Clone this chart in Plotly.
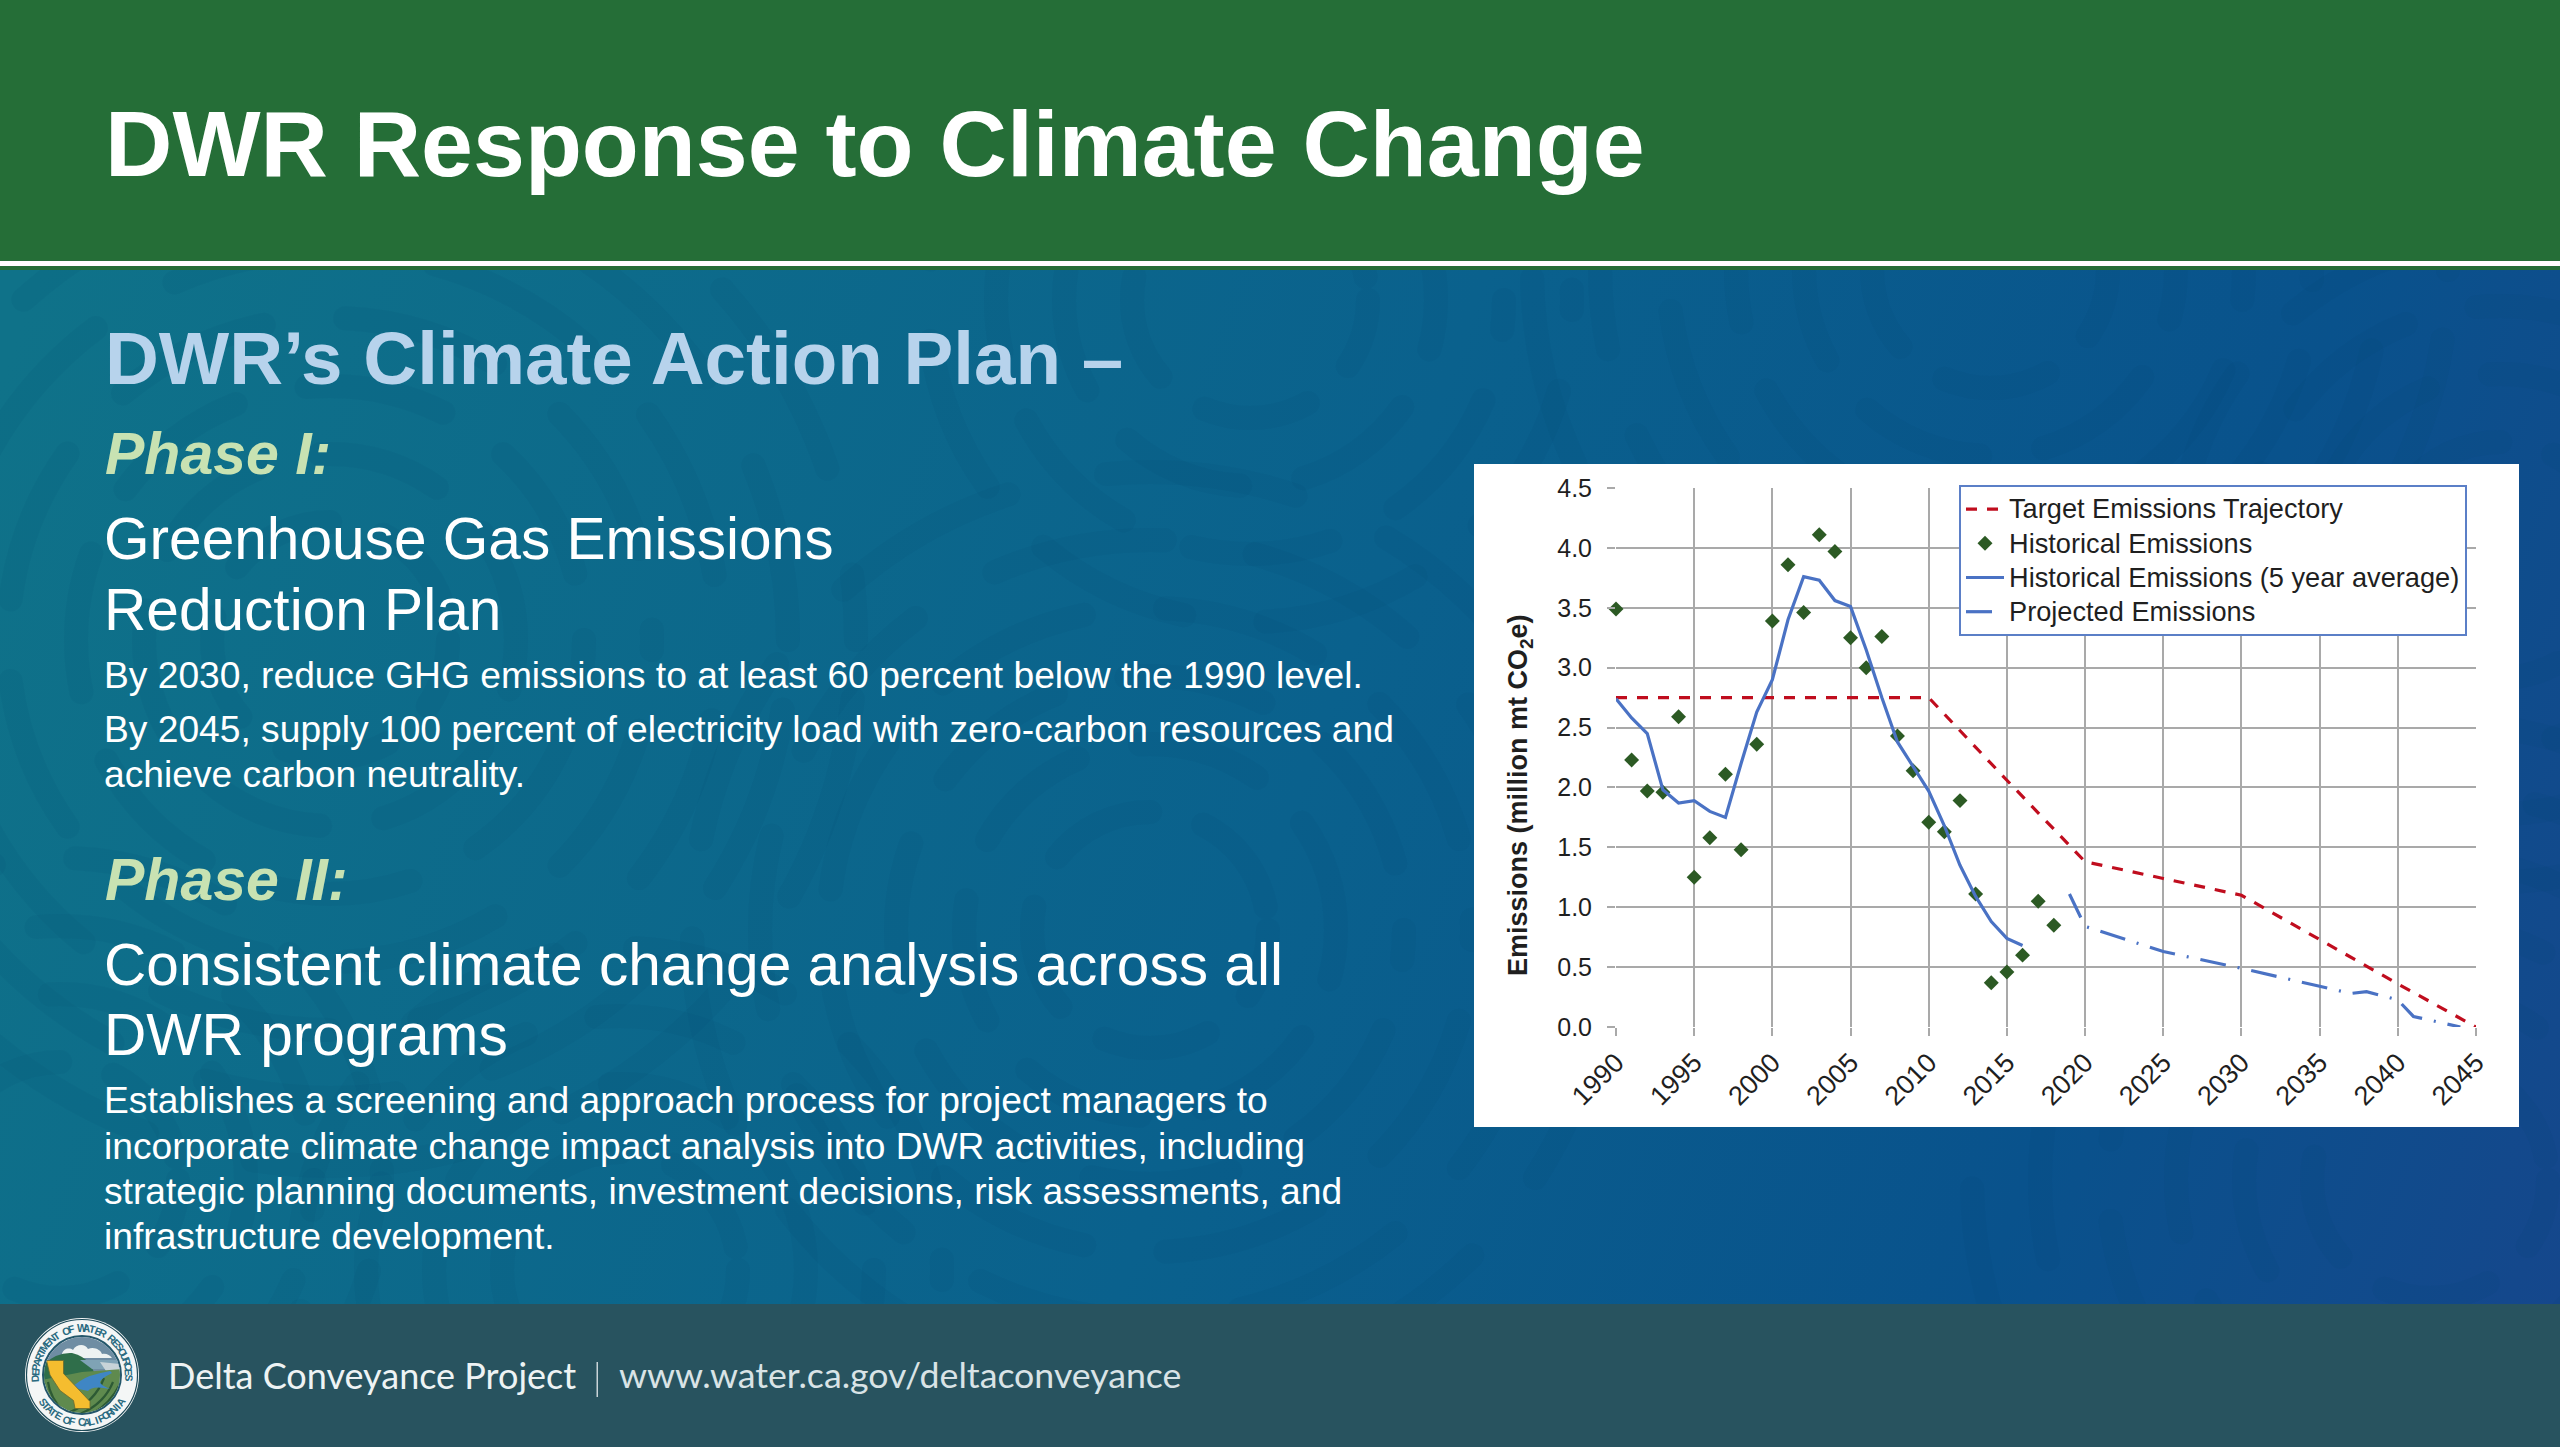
import base64, math
import plotly.graph_objects as go

W, H = 2560, 1447

# ---------- data ----------
target_years = [1990, 2010, 2015, 2020, 2025, 2030, 2035, 2040, 2045]
target_values = [2.75, 2.75, 2.06, 1.38, 1.24, 1.10, 0.73, 0.36, 0.0]

hist_years = list(range(1990, 2019))
hist_values = [3.49, 2.23, 1.97, 1.96, 2.59, 1.25, 1.58, 2.11, 1.48, 2.36,
               3.39, 3.86, 3.46, 4.11, 3.97, 3.25, 3.00, 3.26, 2.43, 2.14,
               1.71, 1.63, 1.89, 1.11, 0.37, 0.46, 0.60, 1.05, 0.85]

avg_years = list(range(1990, 2017))
avg_values = [2.74, 2.58, 2.45, 1.98, 1.87, 1.89, 1.80, 1.75, 2.20, 2.63,
              2.90, 3.40, 3.76, 3.73, 3.56, 3.51, 3.15, 2.75, 2.38, 2.17,
              1.97, 1.68, 1.35, 1.09, 0.88, 0.74, 0.68]

proj_years = [2019, 2020, 2025, 2030, 2035, 2037, 2038, 2040, 2041, 2044]
proj_values = [1.11, 0.84, 0.63, 0.49, 0.34, 0.28, 0.295, 0.226, 0.088, 0.0]

series_names = ["Target Emissions Trajectory", "Historical Emissions",
                "Historical Emissions (5 year average)", "Projected Emissions"]
y_title = "Emissions (million mt CO<sub>2</sub>e)"

SANS = "Liberation Sans"

# ---------- decorative background (gradient, faint swirl pattern, footer, seal art) ----------
swirls = ""
for cx, cy, n in [(1990, 270, 6), (330, 640, 7), (1150, 930, 6), (2430, 1180, 6),
                  (620, 1270, 4), (2500, 560, 4), (1250, 300, 4), (60, 1180, 4)]:
    for i in range(1, n + 1):
        r = 50 + i * 68
        swirls += (f'<circle cx="{cx}" cy="{cy}" r="{r}" fill="none" stroke="#06406f" '
                   f'stroke-opacity="0.075" stroke-width="24" stroke-linecap="round" '
                   f'stroke-dasharray="{90 + 17 * i} {46 + 9 * i}" '
                   f'stroke-dashoffset="{i * 37}"/>')
svg = f'''<svg xmlns="http://www.w3.org/2000/svg" width="{W}" height="{H}" viewBox="0 0 {W} {H}">
<defs><linearGradient id="g" gradientUnits="userSpaceOnUse" x1="0" y1="380" x2="2560" y2="1300">
<stop offset="0" stop-color="#0f7289"/><stop offset="0.5" stop-color="#0a618d"/>
<stop offset="0.8" stop-color="#09528c"/><stop offset="1" stop-color="#15478c"/></linearGradient>
<clipPath id="c"><circle cx="82" cy="1375" r="38"/></clipPath></defs>
<rect width="{W}" height="{H}" fill="url(#g)"/>{swirls}
<rect y="1304" width="{W}" height="{H - 1304}" fill="#28535f"/>
<circle cx="82" cy="1375" r="57" fill="#f4f6f6"/>
<circle cx="82" cy="1375" r="55.5" fill="none" stroke="#1d4a58" stroke-width="1.2"/>
<circle cx="82" cy="1375" r="39" fill="none" stroke="#23566a" stroke-width="2"/>
<g clip-path="url(#c)">
<rect x="40" y="1330" width="84" height="90" fill="#6f8da3"/>
<path d="M62 1354c1-5 7-7 11-4 3-6 12-7 15-1 6-3 13 1 14 5 4-1 8 1 10 4H62z" fill="#eef2f2"/>
<path d="M42 1366q14-14 30-13 12 3 18 11l4 8-10 12H42z" fill="#2f6e4a"/>
<path d="M80 1360h42v9H92z" fill="#7fa3b5"/>
<path d="M100 1362l20 2v7l-12 3z" fill="#c8d4d8"/>
<path d="M42 1380l40-8 42-3v50H42z" fill="#5f8a4e"/>
<path d="M70 1412q25-10 34-34M80 1414q24-10 33-32M92 1414q18-10 28-30M48 1382q2 16 16 30"
 fill="none" stroke="#2d5a34" stroke-width="2.2"/>
<path d="M110 1371q-22 4-30 10t-10 6l18 4q4-6 22-2-10-4-10-7t12-9z" fill="#3f86c4"/>
<path d="M46.5 1360.5h17v13l26.500 28v7h-15l-1.500-8-13.500-10-10-15.500z" fill="#f5bd2f" stroke="#6b6a2e" stroke-width=".8"/>
</g></svg>'''
bg_uri = "data:image/svg+xml;base64," + base64.b64encode(svg.encode()).decode()


def px(x):
    return x / W


def py(y):
    return 1 - y / H


def rect(x0, y0, x1, y1, color):
    return dict(type="rect", xref="paper", yref="paper", x0=px(x0), x1=px(x1),
                y0=py(y0), y1=py(y1), fillcolor=color, line_width=0, layer="below")


shapes = [
    rect(0, 0, W, 270, "#256e37"),
    rect(0, 261, W, 266, "#ffffff"),
    rect(1474, 464, 2519, 1127, "#ffffff"),
    rect(596.5, 1362, 598, 1397, "#c9d4d8"),
]

annotations = []


def txt(x, baseline, s, size, color="#ffffff", bold=False, italic=False, family=SANS):
    t = s
    if bold:
        t = f"<b>{t}</b>"
    if italic:
        t = f"<i>{t}</i>"
    annotations.append(dict(x=px(x), y=py(baseline - 0.3465 * size), xref="paper", yref="paper",
                            text=t, showarrow=False, xanchor="left", yanchor="middle",
                            align="left", borderpad=0, borderwidth=0,
                            font=dict(family=family, size=size, color=color)))


txt(105, 176, "DWR Response to Climate Change", 93.3, bold=True)
txt(105, 384, "DWR’s Climate Action Plan –", 74.6, "#b7d3ec", bold=True)
txt(105, 474, "Phase I:", 59, "#c8e2b2", bold=True, italic=True)
txt(104, 559, "Greenhouse Gas Emissions", 58.6)
txt(104, 630, "Reduction Plan", 58.6)
txt(104, 688, "By 2030, reduce GHG emissions to at least 60 percent below the 1990 level.", 37.2)
txt(104, 742, "By 2045, supply 100 percent of electricity load with zero-carbon resources and", 37.2)
txt(104, 787, "achieve carbon neutrality.", 37.2)
txt(105, 900, "Phase II:", 59, "#c8e2b2", bold=True, italic=True)
txt(104, 985, "Consistent climate change analysis across all", 58.6)
txt(104, 1055, "DWR programs", 58.6)
txt(104, 1113, "Establishes a screening and approach process for project managers to", 37.2)
txt(104, 1159, "incorporate climate change impact analysis into DWR activities, including", 37.2)
txt(104, 1204, "strategic planning documents, investment decisions, risk assessments, and", 37.2)
txt(104, 1249, "infrastructure development.", 37.2)
txt(168, 1387, "Delta Conveyance Project", 36, "#eef3f4", family="Lato")
txt(619, 1387, "www.water.ca.gov/deltaconveyance", 35.7, "#d9e3e6", family="Lato")

annotations.append(dict(x=px(1520), y=py(795), xref="paper", yref="paper", text=f"<b>{y_title}</b>",
                        showarrow=False, textangle=-90, xanchor="center", yanchor="middle",
                        borderpad=0, font=dict(family=SANS, size=27, color="#1f1f1f")))


def ring(s, start, end, r, flip):
    n = len(s)
    for i, ch in enumerate(s):
        if ch == " ":
            continue
        a = math.radians(start + (end - start) * i / (n - 1))
        x = 82 + r * math.sin(a)
        y = 1375 - r * math.cos(a)
        ang = math.degrees(a) + (180 if flip else 0)
        annotations.append(dict(x=px(x), y=py(y), xref="paper", yref="paper", text=f"<b>{ch}</b>",
                                showarrow=False, textangle=ang, xanchor="center", yanchor="middle",
                                borderpad=0, font=dict(family=SANS, size=10.5, color="#2a6a80")))


ring("DEPARTMENT OF WATER RESOURCES", -94, 94, 47, False)
ring("STATE OF CALIFORNIA", 235, 125, 47, True)


def legend_label(name):
    # Larger glyphs than the legend's row pitch, as in the reference.
    return f'<span style="font-size:27.2px">{name}</span>'


# ---------- chart ----------
fig = go.Figure()
fig.add_trace(go.Scatter(x=target_years, y=target_values, name=legend_label(series_names[0]), mode="lines",
                         line=dict(color="#c00d1e", width=3.2, dash="11px,10px")))
fig.add_trace(go.Scatter(x=hist_years, y=hist_values, name=legend_label(series_names[1]), mode="markers",
                         cliponaxis=False,
                         marker=dict(symbol="diamond", size=11.5, color="#2c5a24", line_width=0)))
fig.add_trace(go.Scatter(x=avg_years, y=avg_values, name=legend_label(series_names[2]), mode="lines",
                         line=dict(color="#4a72c4", width=3.2)))
fig.add_trace(go.Scatter(x=proj_years, y=proj_values, name=legend_label(series_names[3]), mode="lines",
                         line=dict(color="#4a72c4", width=3.2, dash="26px,12px,2px,12px")))

fig.update_layout(
    width=W, height=H, margin=dict(l=0, r=0, t=0, b=0, autoexpand=False),
    paper_bgcolor="#0a618d", plot_bgcolor="rgba(0,0,0,0)",
    images=[dict(source=bg_uri, xref="paper", yref="paper", x=0, y=1, sizex=1, sizey=1,
                 sizing="stretch", xanchor="left", yanchor="top", layer="below")],
    shapes=shapes, annotations=annotations,
    xaxis=dict(domain=[px(1616), px(2476)], range=[1990, 2045], tick0=1990, dtick=5,
               tickangle=-45, tickfont=dict(family=SANS, size=27, color="#1f1f1f"),
               ticks="outside", ticklen=8, tickwidth=2,
               tickcolor="#a9a9a9", gridcolor="#a9a9a9", gridwidth=2, zeroline=False,
               showline=False, automargin=False),
    yaxis=dict(domain=[py(1027), py(488)], range=[0, 4.5], tick0=0, dtick=0.5, tickformat=".1f",
               tickfont=dict(family=SANS, size=25, color="#1f1f1f"),
               ticks="outside", ticklen=8, tickwidth=2, tickcolor="#a9a9a9",
               ticklabelstandoff=10,
               gridcolor="#a9a9a9", gridwidth=2, zeroline=False, showline=False, automargin=False),
    legend=dict(x=px(1959), y=py(485), xanchor="left", yanchor="top", bgcolor="#ffffff",
                bordercolor="#5b7fc7", borderwidth=2, traceorder="normal",
                font=dict(family=SANS, size=24, color="#1f1f1f"),
                itemwidth=38, tracegroupgap=0),
    showlegend=True,
)
fig.write_html("out.html", config=dict(displayModeBar=False),
               post_script="document.body.style.margin='0';document.body.style.overflow='hidden';")
